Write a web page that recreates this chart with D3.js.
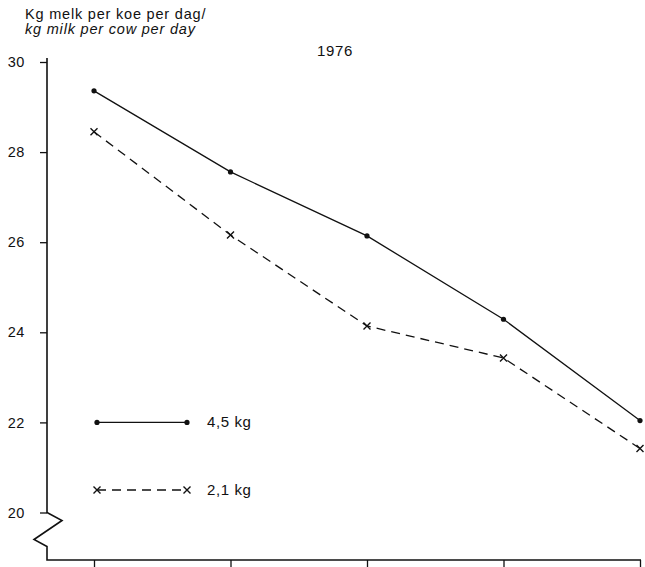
<!DOCTYPE html>
<html>
<head>
<meta charset="utf-8">
<script src="https://cdn.jsdelivr.net/npm/d3@7"></script>
<style>
  body { margin: 0; background: #fff; }
  text { font-family: "Liberation Sans", Arial, sans-serif; fill: #111; }
</style>
</head>
<body>
<div id="chart"></div>
<script>
// data
var periods = [1, 2, 3, 4, 5]
var yTicks = [20, 22, 24, 26, 28, 30]
var milk45 = [29.36, 27.56, 26.14, 24.29, 22.04]
var milk21 = [28.45, 26.16, 24.14, 23.43, 21.42]
var seriesNames = ["4,5 kg", "2,1 kg"]

var width = 645
var height = 567

var svg = d3.select("#chart").append("svg")
    .attr("width", width)
    .attr("height", height)

var x = d3.scalePoint()
    .domain(periods)
    .range([94, 640])

var y = d3.scaleLinear()
    .domain([20, 30])
    .range([512.5, 62])

var axisX = 47
var baseY = 560

// y axis with break
var yAxis = svg.append("g")
    .attr("transform", "translate(" + axisX + ",0)")
    .call(d3.axisLeft(y).tickValues(yTicks).tickSize(7).tickPadding(15).tickFormat(d3.format("d")))
yAxis.select(".domain").remove()
yAxis.selectAll("line").attr("stroke", "#111").attr("stroke-width", 1.3)
yAxis.selectAll("text")
    .style("font-size", "14.5px")
    .style("letter-spacing", "0.6px")
    .attr("fill", "#111")

var y20 = y(20)
svg.append("path")
    .attr("d", "M" + axisX + "," + (y(30) - 4) +
        "L" + axisX + "," + y20 +
        "L" + (axisX + 15) + "," + (y20 + 8) +
        "L" + (axisX - 13) + "," + (y20 + 27) +
        "L" + axisX + "," + (y20 + 34) +
        "L" + axisX + "," + baseY +
        "L" + 641 + "," + baseY)
    .attr("fill", "none")
    .attr("stroke", "#111")
    .attr("stroke-width", 1.6)

// x axis ticks, no labels
var xAxis = svg.append("g")
    .attr("transform", "translate(0," + baseY + ")")
    .call(d3.axisBottom(x).tickSize(8).tickFormat(""))
xAxis.select(".domain").remove()
xAxis.selectAll("line").attr("stroke", "#111").attr("stroke-width", 1.3)

var line = d3.line()
    .x(function(d, i) { return x(periods[i]) })
    .y(function(d) { return y(d) })

function crossPath(cx, cy) {
    var s = 3.5
    return "M" + (cx - s) + "," + (cy - s) + "L" + (cx + s) + "," + (cy + s) +
        "M" + (cx - s) + "," + (cy + s) + "L" + (cx + s) + "," + (cy - s)
}

// 4,5 kg series
svg.append("path")
    .datum(milk45)
    .attr("d", line)
    .attr("fill", "none")
    .attr("stroke", "#111")
    .attr("stroke-width", 1.3)
svg.selectAll(".dot45")
    .data(milk45)
    .enter().append("circle")
    .attr("cx", function(d, i) { return x(periods[i]) })
    .attr("cy", function(d) { return y(d) })
    .attr("r", 2.6)
    .attr("fill", "#111")

// 2,1 kg series
svg.append("path")
    .datum(milk21)
    .attr("d", line)
    .attr("fill", "none")
    .attr("stroke", "#111")
    .attr("stroke-width", 1.3)
    .attr("stroke-dasharray", "9,6")
svg.selectAll(".cross21")
    .data(milk21)
    .enter().append("path")
    .attr("d", function(d, i) { return crossPath(x(periods[i]), y(d)) })
    .attr("stroke", "#111")
    .attr("stroke-width", 1.4)

// legend
var legY = [y(22), y(20.5)]
var legX1 = 97
var legX2 = 187
svg.append("line")
    .attr("x1", legX1).attr("x2", legX2)
    .attr("y1", legY[0]).attr("y2", legY[0])
    .attr("stroke", "#111").attr("stroke-width", 1.3)
svg.selectAll(".legdot")
    .data([legX1, legX2])
    .enter().append("circle")
    .attr("cx", function(d) { return d })
    .attr("cy", legY[0])
    .attr("r", 2.6)
    .attr("fill", "#111")
svg.append("line")
    .attr("x1", legX1).attr("x2", legX2)
    .attr("y1", legY[1]).attr("y2", legY[1])
    .attr("stroke", "#111").attr("stroke-width", 1.3)
    .attr("stroke-dasharray", "9,6")
svg.selectAll(".legcross")
    .data([legX1, legX2])
    .enter().append("path")
    .attr("d", function(d) { return crossPath(d, legY[1]) })
    .attr("stroke", "#111")
    .attr("stroke-width", 1.4)
svg.selectAll(".legtext")
    .data(seriesNames)
    .enter().append("text")
    .attr("x", 207)
    .attr("y", function(d, i) { return legY[i] + 5 })
    .style("font-size", "15px")
    .style("letter-spacing", "0.6px")
    .text(function(d) { return d })

// titles
svg.append("text")
    .attr("x", 25).attr("y", 19)
    .style("font-size", "14.5px")
    .style("letter-spacing", "0.8px")
    .text("Kg melk per koe per dag/")
svg.append("text")
    .attr("x", 25).attr("y", 34)
    .style("font-size", "14.5px")
    .style("letter-spacing", "0.8px")
    .style("font-style", "italic")
    .text("kg milk per cow per day")
svg.append("text")
    .attr("x", 335).attr("y", 56)
    .attr("text-anchor", "middle")
    .style("font-size", "15px")
    .style("letter-spacing", "0.6px")
    .text("1976")
</script>
</body>
</html>
